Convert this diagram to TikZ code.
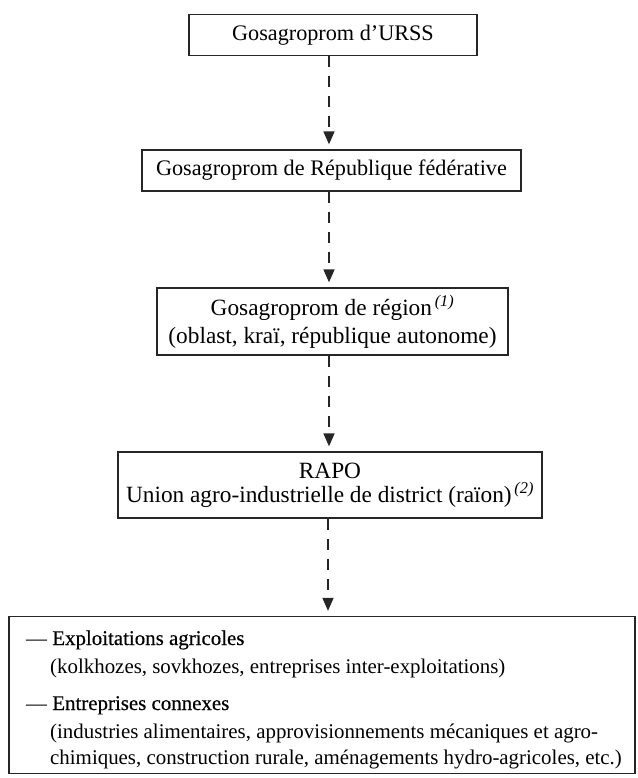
\documentclass[tikz,border=0pt]{standalone}
\usepackage{fontspec}
\setmainfont{Liberation Serif}
\newfontfamily\headfont[FakeBold=0.4]{Liberation Serif}
\usetikzlibrary{arrows.meta}
\begin{document}
\begin{tikzpicture}[x=1pt,y=-1pt,
  box/.style={draw=black!85, line width=1.3pt, inner sep=0pt, font=\fontsize{22.2}{26}\selectfont, align=center},
  bigbox/.style={box, font=\fontsize{23.3}{26}\selectfont},
  txt/.style={inner sep=0pt, anchor=base west, font=\fontsize{20.9}{26}\selectfont},
  link/.style={draw=black!85, line width=1.6pt, dash pattern=on 11pt off 9pt, shorten >=5pt,
    -{Triangle[length=13pt,width=11pt]}}]
\useasboundingbox (0,0) rectangle (637,778);
\newcommand{\fnref}[1]{\textsuperscript{\itshape\,(#1)}}
\node[box, minimum width=288pt, minimum height=41pt] (b1) at (333,35) {Gosagroprom d’URSS};
\node[box, minimum width=379pt, minimum height=41pt] (b2) at (331.5,170.5) {Gosagroprom de République fédérative};
\node[bigbox, minimum width=351pt, minimum height=67pt] (b3) at (332.5,321.5) {Gosagroprom de région\fnref{1}\\[2pt](oblast, kraï, république autonome)};
\node[bigbox, minimum width=424pt, minimum height=66pt] (b4) at (330,485) {RAPO\\[-2pt]Union agro-industrielle de district (raïon)\fnref{2}};
\node[box, minimum width=626pt, minimum height=157pt] (b5) at (322,695) {};
\node[txt] (t1) at (26,645) {— {\headfont Exploitations agricoles}};
\node[txt] (t2) at (50,673) {(kolkhozes, sovkhozes, entreprises inter-exploitations)};
\node[txt] (t3) at (26,710) {— {\headfont Entreprises connexes}};
\node[txt] (t4) at (50,738) {(industries alimentaires, approvisionnements mécaniques et agro-};
\node[txt] (t5) at (50,764) {chimiques, construction rurale, aménagements hydro-agricoles, etc.)};
\draw[link] (b1.south -| 329,0) -- (b2.north -| 329,0);
\draw[link] (b2.south -| 329,0) -- (b3.north -| 329,0);
\draw[link] (b3.south -| 329,0) -- (b4.north -| 329,0);
\draw[link] (b4.south -| 328,0) -- (b5.north -| 328,0);
\end{tikzpicture}
\end{document}
